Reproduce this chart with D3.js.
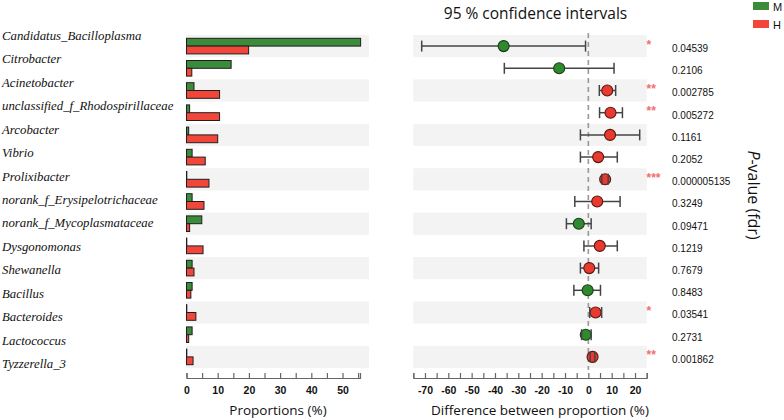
<!DOCTYPE html>
<html><head><meta charset="utf-8">
<script src="https://cdn.jsdelivr.net/npm/d3@7"></script>
<style>body{margin:0;background:#fff}svg{display:block}</style>
</head><body>
<svg id="c" width="784" height="420"></svg>
<script>
const categories = ["Candidatus_Bacilloplasma","Citrobacter","Acinetobacter","unclassified_f_Rhodospirillaceae","Arcobacter","Vibrio","Prolixibacter","norank_f_Erysipelotrichaceae","norank_f_Mycoplasmataceae","Dysgonomonas","Shewanella","Bacillus","Bacteroides","Lactococcus","Tyzzerella_3"];
const propM = [55.8, 14.3, 2.4, 1.0, 0.7, 1.8, 0.1, 1.8, 4.9, 0.1, 1.8, 1.8, 0.1, 1.8, 0.1];
const propH = [19.9, 1.7, 10.6, 10.6, 10.0, 6.0, 7.2, 5.6, 1.0, 5.3, 2.4, 1.4, 3.0, 0.7, 2.1];
const diffEst = [-36.3, -12.5, 8.1, 9.5, 9.3, 4.2, 7.2, 3.8, -4.1, 4.9, 0.4, -0.3, 3.1, -1.1, 1.8];
const ciLow = [-71.4, -36.0, 4.7, 4.8, -3.4, -3.4, 5.8, -5.8, -9.4, -1.9, -3.4, -6.2, 0.6, -2.9, 0.8];
const ciHigh = [-1.2, 11.0, 11.7, 14.6, 22.0, 12.4, 8.5, 13.6, 1.2, 12.4, 4.4, 5.2, 5.7, 1.2, 2.8];
const pValues = ["0.04539","0.2106","0.002785","0.005272","0.1161","0.2052","0.000005135","0.3249","0.09471","0.1219","0.7679","0.8483","0.03541","0.2731","0.001862"];
const stars = ["*","","**","**","","","***","","","","","","*","","**"];
const groups = ["M","H"];
const groupColors = ["#3a8c3a","#f2463a"];
const propTicks = d3.range(0, 56, 5);
const diffTicks = d3.range(-75, 26, 5);

const svg = d3.select("#c");
const GREEN = "#3a8c3a", RED = "#f2463a";
const CGREEN = "#2f8a2f", CRED = "#e83a2e";

const yRow = d3.scaleBand().domain(categories).range([35, 368]);
const yLab = d3.scalePoint().domain(categories).range([40, 368]);
const xP = d3.scaleLinear().domain([0, 55.6]).range([186.5, 360]);
const xD = d3.scaleLinear().domain([-75, 25]).range([413.3, 646.7]);
const bh = 7.8;

// background bands
const bandRows = categories.filter((d, i) => i % 2 === 0);
svg.append("g").selectAll("rect").data(bandRows).join("rect")
  .attr("x", 186).attr("width", 369 - 186)
  .attr("y", d => yRow(d)).attr("height", yRow.bandwidth()).attr("fill", "#f3f3f3");
svg.append("g").selectAll("rect").data(bandRows).join("rect")
  .attr("x", xD(-75)).attr("width", xD(25) - xD(-75))
  .attr("y", d => yRow(d)).attr("height", yRow.bandwidth()).attr("fill", "#f3f3f3");

// labels
svg.append("g").selectAll("text").data(categories).join("text")
  .attr("x", 2).attr("y", d => yLab(d))
  .attr("font-family", "Liberation Serif, serif").attr("font-style", "italic")
  .attr("font-size", 12.8).attr("fill", "#111").text(d => d);

// bars
const cy = d => yRow(d) + yRow.bandwidth() / 2;
svg.append("g").selectAll("rect").data(categories).join("rect")
  .attr("x", xP(0)).attr("y", d => cy(d) - bh)
  .attr("width", (d, i) => xP(propM[i]) - xP(0)).attr("height", bh)
  .attr("fill", GREEN).attr("stroke", "#1e1e1e").attr("stroke-width", 1);
svg.append("g").selectAll("rect").data(categories).join("rect")
  .attr("x", xP(0)).attr("y", d => cy(d))
  .attr("width", (d, i) => xP(propH[i]) - xP(0)).attr("height", bh)
  .attr("fill", RED).attr("stroke", "#1e1e1e").attr("stroke-width", 1);

// axes
function styleAxis(g) {
  g.select(".domain").attr("stroke", "#666").attr("stroke-width", 1.2);
  g.selectAll(".tick line").attr("stroke", "#666").attr("stroke-width", 1.2);
  g.selectAll(".tick text").attr("font-family", "Liberation Sans, Arial, sans-serif")
    .attr("font-size", 10.5).attr("fill", "#111").attr("font-weight", "bold");
}
const fmt = d => (d % 10 === 0 ? String(d) : "");
svg.append("g").attr("transform", "translate(0,378)")
  .call(d3.axisBottom(xP).tickValues(propTicks).tickFormat(fmt).tickSize(-5).tickSizeOuter(-5).tickPadding(9))
  .call(styleAxis);
svg.append("g").attr("transform", "translate(0,378)")
  .call(d3.axisBottom(xD).tickValues(diffTicks).tickFormat(fmt).tickSize(-5).tickSizeOuter(-5).tickPadding(9))
  .call(styleAxis);

// axis titles
svg.append("text").attr("x", 278).attr("y", 415).attr("text-anchor", "middle")
  .attr("font-family", "Open Sans, sans-serif").attr("font-size", 13.5).attr("fill", "#111")
  .text("Proportions (%)");
svg.append("text").attr("x", 540).attr("y", 415).attr("text-anchor", "middle")
  .attr("font-family", "Open Sans, sans-serif").attr("font-size", 13.5).attr("fill", "#111")
  .text("Difference between proportion (%)");
svg.append("text").attr("x", 535.5).attr("y", 19).attr("text-anchor", "middle")
  .attr("font-family", "Open Sans, sans-serif").attr("font-size", 15.5).attr("fill", "#111")
  .text("95 % confidence intervals");

// zero dashed line
svg.append("line").attr("x1", xD(0)).attr("x2", xD(0)).attr("y1", 33).attr("y2", 370)
  .attr("stroke", "#999").attr("stroke-width", 1.6).attr("stroke-dasharray", "5,4");

// CI lines
const ci = svg.append("g");
ci.selectAll("line.h").data(categories).join("line").attr("class", "h")
  .attr("x1", (d, i) => xD(ciLow[i])).attr("x2", (d, i) => xD(ciHigh[i]))
  .attr("y1", cy).attr("y2", cy).attr("stroke", "#444").attr("stroke-width", 1.5);
ci.selectAll("circle").data(categories).join("circle")
  .attr("cx", (d, i) => xD(diffEst[i])).attr("cy", cy).attr("r", 5.5)
  .attr("fill", (d, i) => diffEst[i] < 0 ? CGREEN : CRED)
  .attr("stroke", (d, i) => diffEst[i] < 0 ? "#1a3a1a" : "#5a1510").attr("stroke-width", 1.1);
ci.selectAll("line.l").data(categories).join("line").attr("class", "l")
  .attr("x1", (d, i) => xD(ciLow[i])).attr("x2", (d, i) => xD(ciLow[i]))
  .attr("y1", d => cy(d) - 5.5).attr("y2", d => cy(d) + 5.5).attr("stroke", "#444").attr("stroke-width", 1.5);
ci.selectAll("line.r").data(categories).join("line").attr("class", "r")
  .attr("x1", (d, i) => xD(ciHigh[i])).attr("x2", (d, i) => xD(ciHigh[i]))
  .attr("y1", d => cy(d) - 5.5).attr("y2", d => cy(d) + 5.5).attr("stroke", "#444").attr("stroke-width", 1.5);

// p values and stars
svg.append("g").selectAll("text").data(categories).join("text")
  .attr("x", 672).attr("y", d => cy(d) + 5.8)
  .attr("font-family", "Liberation Sans, Arial, sans-serif").attr("font-size", 10)
  .attr("fill", "#111").text((d, i) => pValues[i]);
svg.append("g").selectAll("text").data(categories).join("text")
  .attr("x", 646.5).attr("y", d => cy(d) + 2.5)
  .attr("font-family", "Liberation Sans, Arial, sans-serif").attr("font-size", 12).attr("font-weight", "bold")
  .attr("fill", "#f07070").text((d, i) => stars[i]);

// P-value axis title
const pt = svg.append("text").attr("transform", "translate(748,195) rotate(90)")
  .attr("text-anchor", "middle").attr("font-family", "Open Sans, sans-serif")
  .attr("font-size", 16).attr("fill", "#111");
pt.append("tspan").attr("font-style", "italic").text("P");
pt.append("tspan").text("-value (fdr)");

// legend
const lg = svg.append("g").selectAll("g").data(groups).join("g")
  .attr("transform", (d, i) => `translate(753,${2 + i * 18})`);
lg.append("rect").attr("width", 16).attr("height", 8).attr("fill", (d, i) => groupColors[i]);
lg.append("text").attr("x", 20).attr("y", 8.5).attr("font-family", "Liberation Sans, Arial, sans-serif")
  .attr("font-size", 11).attr("fill", "#111").text(d => d);
</script>
</body></html>
